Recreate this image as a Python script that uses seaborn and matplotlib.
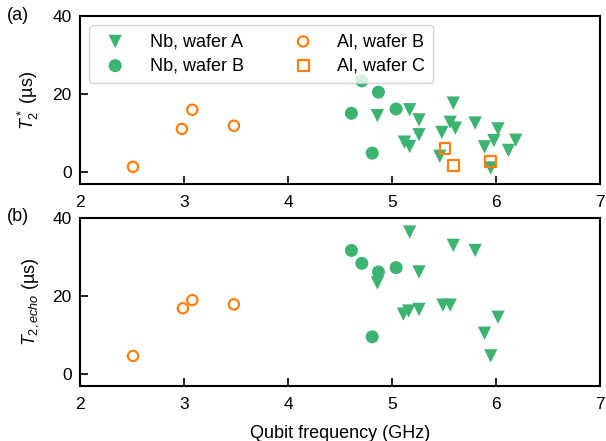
import matplotlib
matplotlib.use("Agg")
import matplotlib.pyplot as plt
import seaborn as sns

# T2* (top panel)
nbA_f_star = [4.86, 5.17, 5.26, 5.26, 5.12, 5.17, 5.59, 5.56, 5.61, 5.48, 5.46,
              5.80, 6.02, 5.98, 5.89, 6.19, 6.12, 5.95]
nbA_t_star = [14.5, 16.0, 13.4, 9.6, 7.7, 6.6, 17.7, 12.8, 11.3, 10.2, 4.1,
              12.6, 11.1, 8.1, 6.5, 8.2, 5.6, 1.1]
nbB_f_star = [4.71, 4.87, 4.61, 5.04, 4.81]
nbB_t_star = [23.4, 20.5, 15.1, 16.2, 4.9]
alB_f_star = [2.51, 2.98, 3.08, 3.48]
alB_t_star = [1.4, 11.1, 16.0, 11.9]
alC_f_star = [5.51, 5.59, 5.945]
alC_t_star = [6.0, 1.7, 2.7]

# T2 echo (bottom panel)
nbA_f_echo = [5.17, 5.59, 5.80, 5.26, 4.86, 5.11, 5.16, 5.26, 5.49, 5.56, 6.02, 5.89, 5.95]
nbA_t_echo = [36.4, 33.0, 31.7, 26.2, 23.4, 15.4, 16.2, 16.6, 17.7, 17.7, 14.6, 10.5, 4.7]
nbB_f_echo = [4.61, 4.71, 4.87, 5.04, 4.81]
nbB_t_echo = [31.7, 28.4, 26.2, 27.3, 9.6]
alB_f_echo = [2.51, 2.99, 3.08, 3.48]
alB_t_echo = [4.7, 16.9, 19.0, 17.9]

green = "#3cb371"
orange = "#ff7f0e"

sns.set_style("ticks", {"axes.edgecolor": "black", "xtick.color": "black",
                        "ytick.color": "black", "text.color": "black",
                        "axes.labelcolor": "black"})
plt.rcParams["font.family"] = ["Liberation Sans", "DejaVu Sans"]
plt.rcParams["mathtext.fontset"] = "custom"
plt.rcParams["mathtext.rm"] = "Liberation Sans"
plt.rcParams["mathtext.it"] = "Liberation Sans:italic"
plt.rcParams["font.size"] = 13

fig = plt.figure(figsize=(6.06, 4.41), dpi=100)
ax1 = fig.add_axes([0.132, 0.5828, 0.858, 0.3809])
ax2 = fig.add_axes([0.132, 0.1247, 0.858, 0.3809])


def draw(ax, fA, tA, fB, tB, fAl, tAl, fC=None, tC=None):
    sns.scatterplot(x=fA, y=tA, ax=ax, marker="v", s=92, color=green,
                    edgecolor="none", label="Nb, wafer A")
    sns.scatterplot(x=fB, y=tB, ax=ax, marker="o", s=88, color=green,
                    edgecolor="none", label="Nb, wafer B")
    sns.scatterplot(x=fAl, y=tAl, ax=ax, marker="o", s=55, facecolor="none",
                    edgecolor=orange, linewidth=1.6, label="Al, wafer B")
    if fC is not None:
        sns.scatterplot(x=fC, y=tC, ax=ax, marker="s", s=62, facecolor="none",
                        edgecolor=orange, linewidth=1.6, label="Al, wafer C")
    ax.set_xlim(2, 7)
    ax.set_ylim(-3, 40)
    ax.set_xticks([2, 3, 4, 5, 6, 7])
    ax.set_yticks([0, 20, 40])
    ax.tick_params(direction="in", length=6, width=1.2, labelsize=12.5)
    ax.tick_params(axis="x", pad=8)
    ax.tick_params(axis="y", pad=6)
    for sp in ax.spines.values():
        sp.set_linewidth(1.5)
        sp.set_visible(True)


draw(ax1, nbA_f_star, nbA_t_star, nbB_f_star, nbB_t_star,
     alB_f_star, alB_t_star, alC_f_star, alC_t_star)
draw(ax2, nbA_f_echo, nbA_t_echo, nbB_f_echo, nbB_t_echo,
     alB_f_echo, alB_t_echo)

handles, labels = ax1.get_legend_handles_labels()
ax1.legend(handles, labels, ncol=2, loc="upper left",
           fontsize=13, columnspacing=2.3, handletextpad=0.9,
           borderpad=0.45, labelspacing=0.4, borderaxespad=0.5,
           edgecolor="#cccccc")
ax2.legend().remove()

ax1.set_ylabel("$T_2^*$ (µs)", fontsize=13, labelpad=8)
ax2.set_ylabel("$T_{2,echo}$ (µs)", fontsize=13, labelpad=8)
ax2.set_xlabel("Qubit frequency (GHz)", fontsize=13, labelpad=9)
ax1.set_xlabel("")

fig.text(0.012, 0.965, "(a)", fontsize=13, va="center")
fig.text(0.012, 0.508, "(b)", fontsize=13, va="center")

fig.savefig("out.png", dpi=100)
